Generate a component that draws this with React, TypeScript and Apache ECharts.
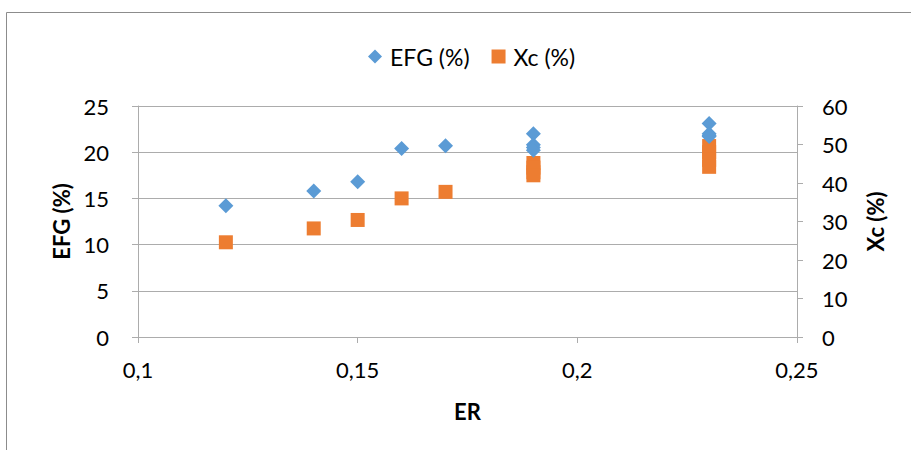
import React, { useEffect, useRef } from "react";
import * as echarts from "echarts";

const erEFG = [0.12, 0.14, 0.15, 0.16, 0.17, 0.19, 0.19, 0.19, 0.19, 0.23, 0.23, 0.23, 0.23];
const efgValues = [14.2, 15.8, 16.8, 20.4, 20.7, 22.0, 20.8, 20.5, 20.2, 23.1, 22.0, 21.8, 21.7];
const erXc = [0.12, 0.14, 0.15, 0.16, 0.17, 0.19, 0.19, 0.19, 0.19, 0.23, 0.23, 0.23, 0.23];
const xcValues = [24.6, 28.2, 30.4, 36.0, 37.7, 45.2, 44.0, 42.8, 42.0, 49.6, 48.0, 46.0, 44.2];

const seriesNames = ["EFG (%)", "Xc (%)"];
const xAxisName = "ER";

const FONT = "Lato, 'Open Sans', sans-serif";

export default function App() {
  const ref = useRef<HTMLDivElement>(null);
  useEffect(() => {
    if (!ref.current) return;
    const chart = echarts.init(ref.current, undefined, { renderer: "svg" });
    const gridColor = "#acacac";
    const labelStyle = { color: "#000", fontSize: 22, fontFamily: FONT };
    const titleStyle = { color: "#000", fontSize: 22, fontWeight: "bold", fontFamily: FONT };
    chart.setOption({
      animation: false,
      backgroundColor: "#fff",
      textStyle: { fontFamily: FONT },
      graphic: [
        {
          type: "rect",
          shape: { x: 6.5, y: 12.5, width: 1000, height: 1000 },
          style: { fill: "none", stroke: "#8c8c8c", lineWidth: 1 },
          silent: true,
        },
      ],
      legend: {
        left: 363,
        top: 40,
        itemGap: 22,
        itemWidth: 14,
        itemHeight: 14,
        textStyle: { color: "#000", fontSize: 23, fontFamily: FONT, padding: [0, 0, 0, 3] },
        data: [
          { name: seriesNames[0], icon: "diamond" },
          { name: seriesNames[1], icon: "rect" },
        ],
      },
      grid: { left: 138, right: 114, top: 106, bottom: 113 },
      xAxis: {
        type: "value",
        min: 0.1,
        max: 0.25,
        interval: 0.05,
        name: xAxisName,
        nameLocation: "middle",
        nameGap: 63,
        nameTextStyle: titleStyle,
        axisLine: { show: true, lineStyle: { color: gridColor } },
        axisTick: { show: true, length: 6, lineStyle: { color: gridColor } },
        splitLine: { show: false },
        axisLabel: {
          ...labelStyle,
          margin: 21,
          formatter: (v: number) => String(Math.round(v * 100) / 100).replace(".", ","),
        },
      },
      yAxis: [
        {
          type: "value",
          min: 0,
          max: 25,
          interval: 5,
          name: seriesNames[0],
          nameLocation: "middle",
          nameRotate: 90,
          nameGap: 65,
          nameTextStyle: titleStyle,
          axisLine: { show: true, lineStyle: { color: gridColor } },
          axisTick: { show: true, length: 6, lineStyle: { color: gridColor } },
          splitLine: { show: true, lineStyle: { color: gridColor } },
          axisLabel: { ...labelStyle, margin: 29 },
        },
        {
          type: "value",
          min: 0,
          max: 60,
          interval: 10,
          position: "right",
          name: seriesNames[1],
          nameLocation: "middle",
          nameRotate: 90,
          nameGap: 67,
          nameTextStyle: titleStyle,
          axisLine: { show: true, lineStyle: { color: gridColor } },
          axisTick: { show: true, length: 6, lineStyle: { color: gridColor } },
          splitLine: { show: false },
          axisLabel: { ...labelStyle, margin: 25 },
        },
      ],
      series: [
        {
          name: seriesNames[0],
          type: "scatter",
          yAxisIndex: 0,
          symbol: "diamond",
          symbolSize: 15,
          itemStyle: { color: "#5B9BD5", opacity: 1 },
          data: erEFG.map((x, i) => [x, efgValues[i]]),
          z: 3,
        },
        {
          name: seriesNames[1],
          type: "scatter",
          yAxisIndex: 1,
          symbol: "rect",
          symbolSize: 14,
          itemStyle: { color: "#ED7D31", opacity: 1 },
          data: erXc.map((x, i) => [x, xcValues[i]]),
          z: 2,
        },
      ],
    });
    return () => chart.dispose();
  }, []);
  return (
    <div
      ref={ref}
      style={{ position: "fixed", left: 0, top: 0, width: 911, height: 450 }}
    />
  );
}
